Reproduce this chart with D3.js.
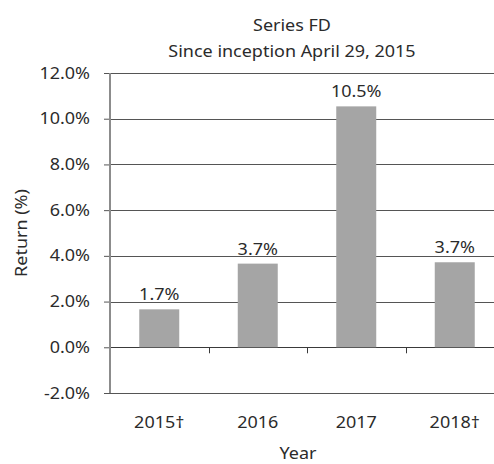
<!DOCTYPE html>
<html>
<head>
<meta charset="utf-8">
<script src="https://cdn.jsdelivr.net/npm/d3@7"></script>
<style>
  body { margin: 0; background: #fff; }
  svg { display: block; }
</style>
</head>
<body>
<div id="chart"></div>
<script>
const years = ['2015\u2020', '2016', '2017', '2018\u2020'];
const returns = [1.66, 3.66, 10.54, 3.72];
const yTicks = [-2, 0, 2, 4, 6, 8, 10, 12];
const titleLines = ['Series FD', 'Since inception April 29, 2015'];

const width = 494, height = 464;
const margin = { top: 73, left: 110 };
const plotW = 394, plotH = 320;
const font = "'Noto Sans', sans-serif";
const fs = 15.5;
const sx = 1.16; // text in the picture is drawn wide
const textColor = '#2b2b2b';

const pct = d => d.toFixed(1) + '%';

const svg = d3.select('#chart').append('svg')
  .attr('width', width)
  .attr('height', height);

const x = d3.scaleBand()
  .domain(years)
  .range([margin.left, margin.left + plotW])
  .paddingInner(0.594)
  .paddingOuter(0.297);

const y = d3.scaleLinear()
  .domain([-2, 12])
  .range([margin.top + plotH, margin.top]);

// wide text helper
function wideText(g, tx, ty, str, rotate) {
  return g.append('text')
    .attr('transform', `translate(${tx},${ty})` + (rotate ? ` rotate(${rotate})` : '') + ` scale(${sx},1)`)
    .attr('text-anchor', 'middle')
    .style('font-family', font)
    .style('font-size', fs + 'px')
    .style('fill', textColor)
    .text(str);
}

// gridlines
svg.append('g')
  .selectAll('line')
  .data(yTicks)
  .enter()
  .append('line')
  .attr('x1', margin.left)
  .attr('x2', width + 20)
  .attr('y1', d => Math.round(y(d)) + 0.5)
  .attr('y2', d => Math.round(y(d)) + 0.5)
  .attr('stroke', d => d === 0 ? '#3a3a3a' : '#555')
  .attr('stroke-width', 1);

// bars
svg.append('g')
  .selectAll('rect')
  .data(returns)
  .enter()
  .append('rect')
  .attr('x', (d, i) => x(years[i]))
  .attr('width', x.bandwidth())
  .attr('y', d => y(d))
  .attr('height', d => y(0) - y(d))
  .attr('fill', '#a5a5a5');

// category ticks on zero line
const step = x.step();
const bounds = d3.range(1, years.length).map(i => margin.left + i * step);
svg.append('g')
  .selectAll('line')
  .data(bounds)
  .enter()
  .append('line')
  .attr('x1', d => Math.round(d) + 0.5)
  .attr('x2', d => Math.round(d) + 0.5)
  .attr('y1', y(0))
  .attr('y2', y(0) + 6)
  .attr('stroke', '#3a3a3a');

// y axis
const yAxis = d3.axisLeft(y)
  .tickValues(yTicks)
  .tickSize(6)
  .tickFormat(pct);
const yg = svg.append('g')
  .attr('transform', `translate(${margin.left},0)`)
  .call(yAxis);
yg.select('.domain').remove();
yg.selectAll('.tick line').attr('stroke', '#555');
yg.selectAll('.tick text').remove();
yg.selectAll('.tick').each(function (d) {
  wideText(d3.select(this), -20, 5, pct(d))
    .attr('text-anchor', 'end');
});
svg.append('line')
  .attr('x1', margin.left)
  .attr('x2', margin.left)
  .attr('y1', margin.top)
  .attr('y2', margin.top + plotH)
  .attr('stroke', '#8c8c8c')
  .attr('stroke-width', 2);

// x labels
years.forEach(yr => {
  wideText(svg, x(yr) + x.bandwidth() / 2, 428, yr);
});

// data labels
returns.forEach((v, i) => {
  wideText(svg, x(years[i]) + x.bandwidth() / 2, y(v) - 9, pct(v));
});

// titles
wideText(svg, 292, 31, titleLines[0]);
wideText(svg, 292, 57, titleLines[1]);
wideText(svg, 298, 459, 'Year');
wideText(svg, 27, 233, 'Return (%)', -90);
</script>
</body>
</html>
